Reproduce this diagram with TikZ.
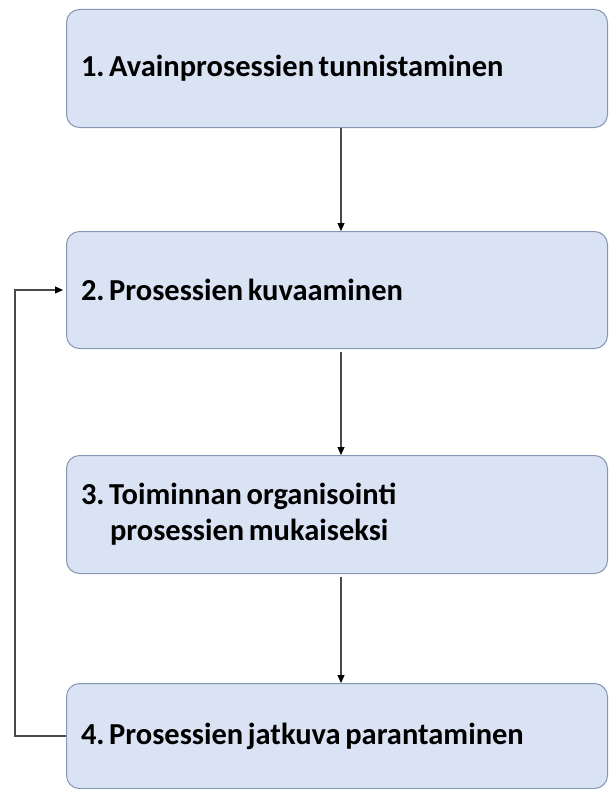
\documentclass[tikz,border=0pt]{standalone}
\usepackage{fontspec}
\setmainfont{Carlito}
\usetikzlibrary{arrows.meta}
\definecolor{boxfill}{HTML}{DAE3F3}
\definecolor{boxline}{HTML}{8597B3}
\definecolor{linkline}{HTML}{4A4A4A}
% tight word spacing inside the step labels
\newcommand{\tightsp}{\spaceskip=0.15em\relax\xspaceskip=0.15em\relax}
\begin{document}
\begin{tikzpicture}[x=1pt,y=-1pt,
  stepbox/.style={draw=boxline, fill=boxfill, line width=1pt, rounded corners=13pt,
    rectangle, minimum width=541pt, text width=512pt, inner xsep=14pt,
    align=left, font=\bfseries\fontsize{30.5}{36}\selectfont, anchor=north west},
  link/.style={draw=linkline, line width=1.2pt, -{Triangle[length=8pt,width=7pt,color=black]}}]
\useasboundingbox (0,0) rectangle (608,789);
% the four steps
\node[stepbox, minimum height=118pt] (b1) at (66,9) {\tightsp 1. Avainprosessien tunnistaminen};
\node[stepbox, minimum height=117pt] (b2) at (66,231) {\tightsp 2. Prosessien kuvaaminen};
\node[stepbox, minimum height=118pt] (b3) at (66,455)
  {\tightsp 3. Toiminnan organisointi\\\hspace*{29pt}prosessien mukaiseksi};
\node[stepbox, minimum height=105pt] (b4) at (66,683) {\tightsp 4. Prosessien jatkuva parantaminen};
% vertical axis of the downward arrows
\coordinate (ax) at (341,0);
\coordinate (fb) at (15,0);
\draw[link] (b1.south -| ax) -- (b2.north -| ax);
\draw[link, shorten <=3pt] (b2.south -| ax) -- (b3.north -| ax);
\draw[link, shorten <=3pt] (b3.south -| ax) -- (b4.north -| ax);
% feedback loop from step 4 back to step 2
\draw[link] (b4.west) -- (b4.west -| fb) |- ([xshift=-3pt]b2.west);
\end{tikzpicture}
\end{document}
